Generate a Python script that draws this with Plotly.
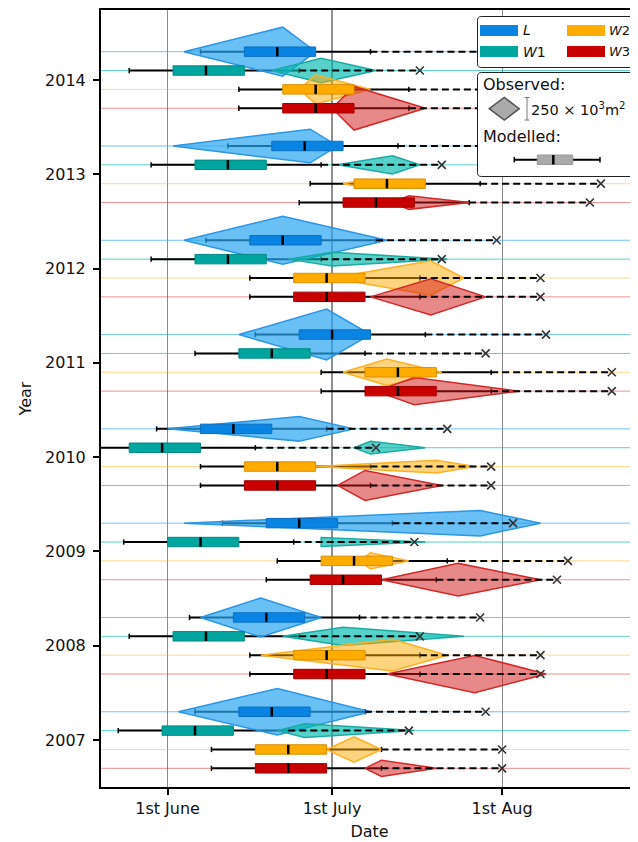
import plotly.graph_objects as go

# ---------------- data (x values are day-of-year, 152 = 1st June) ----------------
years = [2007, 2008, 2009, 2010, 2011, 2012, 2013, 2014]
series = ["L", "W1", "W2", "W3"]
row_offset = {"L": 0.3, "W1": 0.1, "W2": -0.1, "W3": -0.3}

tick_days = [152, 182, 213]
tick_text = ["1st June", "1st July", "1st Aug"]

# Observed lake-area records: start, peak, end (day of year) and peak area (10^3 m^2)
obs_start = {
    "L":  [154, 158, 155, 152, 165, 155, 153, 155],
    "W1": [172, 173, 180, 186, None, 174, 183, 171],
    "W2": [181, 169, 187, 179, 184, 182, 184, 176],
    "W3": [188, 192, 191, 183, 190, 189, 193, 182],
}
obs_peak = {
    "L":  [172, 169, 209, 176, 181, 173, 178, 173],
    "W1": [177, 184, 180, 189, None, 182, 193, 180],
    "W2": [186, 193, 189, 201, 192, 200, 188, 179],
    "W3": [191, 208, 205, 188, 197, 200, 196, 186],
}
obs_end = {
    "L":  [189, 180, 220, 186, 189, 192, 183, 179],
    "W1": [197, 206, 199, 199, None, 203, 198, 190],
    "W2": [191, 203, 196, 208, 202, 206, 198, 189],
    "W3": [201, 221, 220, 202, 216, 210, 207, 199],
}
obs_area = {
    "L":  [510, 430, 280, 270, 560, 530, 370, 540],
    "W1": [150, 200, 100, 140, None, 150, 200, 270],
    "W2": [280, 350, 180, 140, 290, 380, 90, 320],
    "W3": [180, 410, 360, 330, 300, 400, 150, 480],
}

# Modelled distributions: whisker low, Q1, median, Q3, whisker high, maximum
mod_lo = {
    "L":  [157, 156, 162, 150, 168, 159, 163, 158],
    "W1": [143, 145, 144, 137, 157, 149, 149, 145],
    "W2": [160, 167, 172, 158, 180, 167, 178, 165],
    "W3": [160, 167, 170, 158, 180, 167, 176, 165],
}
mod_q1 = {
    "L":  [165, 164, 170, 158, 176, 167, 171, 166],
    "W1": [151, 153, 152, 145, 165, 157, 157, 153],
    "W2": [168, 175, 180, 166, 188, 175, 186, 173],
    "W3": [168, 175, 178, 166, 188, 175, 184, 173],
}
mod_med = {
    "L":  [171, 170, 176, 164, 182, 173, 177, 172],
    "W1": [157, 159, 158, 151, 171, 163, 163, 159],
    "W2": [174, 181, 186, 172, 194, 181, 192, 179],
    "W3": [174, 181, 184, 172, 194, 181, 190, 179],
}
mod_q3 = {
    "L":  [178, 177, 183, 171, 189, 180, 184, 179],
    "W1": [164, 166, 165, 158, 178, 170, 170, 166],
    "W2": [181, 188, 193, 179, 201, 188, 199, 186],
    "W3": [181, 188, 191, 179, 201, 188, 197, 186],
}
mod_hi = {
    "L":  [188, 187, 193, 181, 199, 190, 194, 189],
    "W1": [174, 176, 175, 168, 188, 180, 180, 176],
    "W2": [191, 198, 203, 189, 211, 198, 209, 196],
    "W3": [191, 198, 201, 189, 211, 198, 207, 196],
}
mod_max = {
    "L":  [210, 209, 215, 203, 221, 212, 216, 211],
    "W1": [196, 198, 197, 190, 210, 202, 202, 198],
    "W2": [213, 220, 225, 211, 233, 220, 231, 218],
    "W3": [213, 220, 223, 211, 233, 220, 229, 218],
}

LEGEND_AREA = 250  # 10^3 m^2 shown in the scale bar

# ---------------- styling ----------------
FONT = "DejaVu Sans"
box_fill = {"L": "#0a84e2", "W1": "#00a59f", "W2": "#ffab00", "W3": "#c80000"}
box_edge = {"L": "#0b6fc4", "W1": "#008a84", "W2": "#d98f00", "W3": "#a00000"}
dia_fill = {"L": "rgba(40,165,240,0.70)", "W1": "rgba(0,185,175,0.65)",
            "W2": "rgba(255,170,0,0.50)", "W3": "rgba(210,20,20,0.50)"}
dia_edge = {"L": "#2b95e6", "W1": "#1aaaa2", "W2": "#ffb020", "W3": "#d02828"}
row_col = {"L": "rgba(40,165,240,0.65)", "W1": "rgba(0,185,175,0.65)",
           "W2": "rgba(255,170,0,0.45)", "W3": "rgba(220,40,40,0.50)"}

X_RANGE = [139.86, 237.78]
Y_RANGE = [2006.502, 2014.742]
BOX_H = 0.05
CAP_H = 0.028
AREA_TO_HALF = 0.1204 / LEGEND_AREA  # half-height in years per 10^3 m^2

fig = go.Figure()

def add(x, y, **kw):
    fig.add_trace(go.Scatter(x=x, y=y, showlegend=False, hoverinfo="skip", **kw))

# 1. row lines
for s in series:
    xs, ys = [], []
    for yr in years:
        yc = yr + row_offset[s]
        xs += [X_RANGE[0] - 5, X_RANGE[1] + 5, None]
        ys += [yc, yc, None]
    add(xs, ys, mode="lines", line=dict(color=row_col[s], width=1))

# 2. solid whiskers + caps
xs, ys = [], []
for s in series:
    for i, yr in enumerate(years):
        yc = yr + row_offset[s]
        xs += [mod_lo[s][i], mod_q1[s][i], None, mod_q3[s][i], mod_hi[s][i], None]
        ys += [yc, yc, None, yc, yc, None]
add(xs, ys, mode="lines", line=dict(color="black", width=2))
xs, ys = [], []
for s in series:
    for i, yr in enumerate(years):
        yc = yr + row_offset[s]
        for v in (mod_lo[s][i], mod_hi[s][i]):
            xs += [v, v, None]
            ys += [yc - CAP_H, yc + CAP_H, None]
add(xs, ys, mode="lines", line=dict(color="black", width=1.5))

# 3. observed diamonds
for s in series:
    xs, ys = [], []
    for i, yr in enumerate(years):
        if obs_area[s][i] is None:
            continue
        yc = yr + row_offset[s]
        h = obs_area[s][i] * AREA_TO_HALF
        xs += [obs_start[s][i], obs_peak[s][i], obs_end[s][i], obs_peak[s][i], obs_start[s][i], None]
        ys += [yc, yc + h, yc, yc - h, yc, None]
    add(xs, ys, mode="lines", fill="toself", fillcolor=dia_fill[s],
        line=dict(color=dia_edge[s], width=1.5))

# 4. dashed tails + max markers
xs, ys, mx, my = [], [], [], []
for s in series:
    for i, yr in enumerate(years):
        yc = yr + row_offset[s]
        xs += [mod_hi[s][i], mod_max[s][i], None]
        ys += [yc, yc, None]
        mx.append(mod_max[s][i])
        my.append(yc)
add(xs, ys, mode="lines", line=dict(color="black", width=2, dash="7px,4px"))
add(mx, my, mode="markers", marker=dict(symbol="x-thin", size=8, line=dict(color="#333", width=1.6)))

# 5. boxes
for s in series:
    xs, ys = [], []
    for i, yr in enumerate(years):
        yc = yr + row_offset[s]
        a, b = mod_q1[s][i], mod_q3[s][i]
        xs += [a, b, b, a, a, None]
        ys += [yc - BOX_H, yc - BOX_H, yc + BOX_H, yc + BOX_H, yc - BOX_H, None]
    add(xs, ys, mode="lines", fill="toself", fillcolor=box_fill[s],
        line=dict(color=box_edge[s], width=1))

# 6. medians
xs, ys = [], []
for s in series:
    for i, yr in enumerate(years):
        yc = yr + row_offset[s]
        xs += [mod_med[s][i], mod_med[s][i], None]
        ys += [yc - BOX_H, yc + BOX_H, None]
add(xs, ys, mode="lines", line=dict(color="black", width=2.5))

# ---------------- layout ----------------
# page has an 8px body margin: the figure starts at (8, 8) of the window
OFF = 8
W, H = 638 - OFF, 842 - OFF
PL, PR, PT, PB = 101, 638, 10, 787   # plot area in window pixels

def px2x(px):
    return (px - PL) / (PR - PL)

def py2y(py):
    return (PB - py) / (PB - PT)

def rounded(x0, y0, x1, y1, r):
    pts = [("M", x0 + r, y0), ("L", x1 - r, y0), ("Q", x1, y0, x1, y0 + r),
           ("L", x1, y1 - r), ("Q", x1, y1, x1 - r, y1), ("L", x0 + r, y1),
           ("Q", x0, y1, x0, y1 - r), ("L", x0, y0 + r), ("Q", x0, y0, x0 + r, y0)]
    out = []
    for p in pts:
        if p[0] == "Q":
            out.append(f"Q{px2x(p[1]):.5f},{py2y(p[2]):.5f} {px2x(p[3]):.5f},{py2y(p[4]):.5f}")
        else:
            out.append(f"{p[0]}{px2x(p[1]):.5f},{py2y(p[2]):.5f}")
    return " ".join(out) + " Z"

shapes = []
shapes.append(dict(type="line", xref="x", yref="paper", x0=182, x1=182, y0=0, y1=1,
                   line=dict(color="#666", width=1.6), layer="below"))

for (y0, y1) in [(16.5, 67.5), (72.5, 176.5)]:
    shapes.append(dict(type="path", xref="paper", yref="paper", path=rounded(477.5, y0, 680, y1, 4),
                       fillcolor="white", line=dict(color="#222", width=1), layer="above"))

patches = {"L": (480, 25), "W1": (480, 46), "W2": (567, 25), "W3": (567, 46)}
for s, (x0, y0) in patches.items():
    shapes.append(dict(type="rect", xref="paper", yref="paper",
                       x0=px2x(x0), x1=px2x(x0 + 38), y0=py2y(y0 + 11), y1=py2y(y0),
                       fillcolor=box_fill[s], line=dict(width=0), layer="above"))

cx, cy, hw, hh = 504.3, 108.7, 15, 11.3
shapes.append(dict(type="path", xref="paper", yref="paper",
                   path=f"M{px2x(cx-hw)},{py2y(cy)} L{px2x(cx)},{py2y(cy-hh)} L{px2x(cx+hw)},{py2y(cy)} L{px2x(cx)},{py2y(cy+hh)} Z",
                   fillcolor="#aaaaaa", line=dict(color="#555", width=1.5), layer="above"))
for (xa, ya, xb, yb) in [(527, 97.5, 527, 120), (524.5, 97.5, 529.5, 97.5), (524.5, 120, 529.5, 120)]:
    shapes.append(dict(type="line", xref="paper", yref="paper", x0=px2x(xa), y0=py2y(ya),
                       x1=px2x(xb), y1=py2y(yb), line=dict(color="#777", width=1), layer="above"))
for (xa, ya, xb, yb, w) in [(514.3, 159.7, 600, 159.7, 2), (514.3, 157, 514.3, 162.4, 1.5),
                            (600, 157, 600, 162.4, 1.5)]:
    shapes.append(dict(type="line", xref="paper", yref="paper", x0=px2x(xa), y0=py2y(ya),
                       x1=px2x(xb), y1=py2y(yb), line=dict(color="black", width=w), layer="above"))
shapes.append(dict(type="rect", xref="paper", yref="paper", x0=px2x(537.3), x1=px2x(572.7),
                   y0=py2y(164.5), y1=py2y(155), fillcolor="#aaaaaa", line=dict(color="#999", width=1),
                   layer="above"))
shapes.append(dict(type="line", xref="paper", yref="paper", x0=px2x(553.3), x1=px2x(553.3),
                   y0=py2y(155), y1=py2y(164.5), line=dict(color="black", width=2.5), layer="above"))

annotations = []
def txt(t, x, y, size=16):
    annotations.append(dict(text=t, xref="paper", yref="paper", x=px2x(x), y=py2y(y),
                            xanchor="left", yanchor="middle", align="left", showarrow=False,
                            borderpad=0, font=dict(family=FONT, size=size, color="#111")))

txt("<i>L</i>", 522, 30.5, 14)
txt("<i>W</i>1", 522, 51.5, 14)
txt("<i>W</i>2", 608, 30.5, 13)
txt("<i>W</i>3", 608, 51.5, 13)
txt("Observed:", 482, 84)
txt("250 × 10<sup>3</sup>m<sup>2</sup>", 530, 109, 14.5)
txt("Modelled:", 482, 136)

fig.update_layout(
    width=W, height=H,
    margin=dict(l=PL - OFF, r=638 - PR, t=PT - OFF, b=842 - PB),
    paper_bgcolor="white", plot_bgcolor="white",
    font=dict(family=FONT, size=16, color="#111"),
    shapes=shapes, annotations=annotations,
    xaxis=dict(range=X_RANGE, tickvals=tick_days, ticktext=tick_text,
               showgrid=True, gridcolor="#8a8a8a", gridwidth=1, zeroline=False,
               showline=True, linecolor="black", linewidth=2, mirror=True,
               ticks="outside", ticklen=6, tickwidth=1.5, tickcolor="black",
               title=dict(text="Date", standoff=9, font=dict(size=16))),
    yaxis=dict(range=Y_RANGE, tickvals=years, ticktext=[str(y) for y in years],
               showgrid=False, zeroline=False,
               showline=True, linecolor="black", linewidth=2,
               ticks="outside", ticklen=6, tickwidth=1.5, tickcolor="black",
               ticklabelstandoff=4,
               title=dict(text="Year", standoff=9, font=dict(size=16))),
)

fig.write_html("out.html",
               post_script="document.documentElement.style.overflow='hidden';document.body.style.overflow='hidden';")
